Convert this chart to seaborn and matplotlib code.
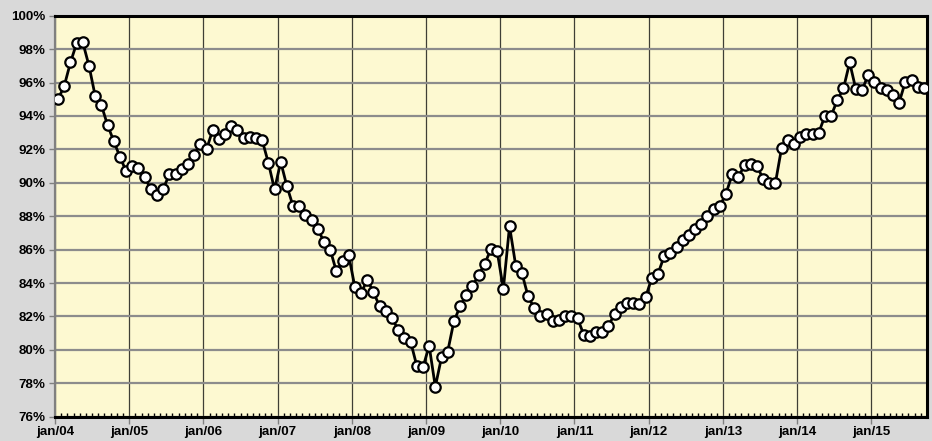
import numpy as np
import pandas as pd
import matplotlib
matplotlib.use("Agg")
import matplotlib.pyplot as plt
import seaborn as sns
from matplotlib.ticker import MultipleLocator, FixedLocator

# monthly values (%), jan/04 .. sep/15
y2004 = [95.0, 95.8, 97.2, 98.35, 98.4, 97.0, 95.2, 94.65, 93.45, 92.5, 91.55, 90.7]
y2005 = [91.0, 90.9, 90.35, 89.6, 89.25, 89.65, 90.5, 90.5, 90.8, 91.1, 91.65, 92.35]
y2006 = [92.0, 93.15, 92.65, 92.9, 93.4, 93.15, 92.7, 92.75, 92.7, 92.55, 91.2, 89.6]
y2007 = [91.25, 89.8, 88.6, 88.6, 88.1, 87.75, 87.25, 86.45, 86.0, 84.7, 85.3, 85.65]
y2008 = [83.75, 83.4, 84.2, 83.45, 82.6, 82.35, 81.9, 81.2, 80.7, 80.5, 79.05, 78.95]
y2009 = [80.25, 77.8, 79.55, 79.9, 81.7, 82.6, 83.3, 83.8, 84.5, 85.15, 86.05, 85.9]
y2010 = [83.65, 87.4, 85.05, 84.6, 83.2, 82.5, 82.0, 82.15, 81.7, 81.8, 82.0, 82.0]
y2011 = [81.9, 80.9, 80.85, 81.05, 81.05, 81.45, 82.15, 82.55, 82.8, 82.8, 82.75, 83.15]
y2012 = [84.3, 84.55, 85.6, 85.8, 86.15, 86.6, 86.85, 87.25, 87.55, 88.0, 88.45, 88.6]
y2013 = [89.35, 90.5, 90.35, 91.05, 91.1, 91.0, 90.25, 90.0, 90.0, 92.1, 92.55, 92.3]
y2014 = [92.75, 92.9, 92.95, 93.0, 94.0, 94.0, 94.95, 95.65, 97.2, 95.6, 95.55, 96.45]
y2015 = [96.05, 95.65, 95.55, 95.25, 94.8, 96.05, 96.15, 95.75, 95.7]

values = y2004 + y2005 + y2006 + y2007 + y2008 + y2009 + y2010 + y2011 + y2012 + y2013 + y2014 + y2015
year_labels = ["jan/04", "jan/05", "jan/06", "jan/07", "jan/08", "jan/09",
               "jan/10", "jan/11", "jan/12", "jan/13", "jan/14", "jan/15"]

n = len(values)
df = pd.DataFrame({"month": np.arange(n) + 0.5, "valor": values})

fig = plt.figure(figsize=(9.32, 4.41), dpi=100, facecolor="#D9D9D9")
ax = fig.add_axes([0.059, 0.055, 0.9356, 0.9094])
ax.set_facecolor("#FDF9D1")

sns.lineplot(data=df, x="month", y="valor", ax=ax, color="black", linewidth=2,
             marker="o", markersize=7.5, markerfacecolor="white",
             markeredgecolor="black", markeredgewidth=1.6, zorder=5)

ax.set_xlim(0, n)
ax.set_ylim(76, 100)

# y axis
ax.set_yticks(np.arange(76, 101, 2))
ax.set_yticklabels([f"{v}%" for v in range(76, 101, 2)])
ax.yaxis.grid(True, color="#8C8C8C", linewidth=1.6)

# x axis: year ticks + monthly minor ticks
ax.xaxis.set_major_locator(FixedLocator(np.arange(0, n, 12)))
ax.set_xticklabels(year_labels)
ax.xaxis.set_minor_locator(MultipleLocator(1))
ax.xaxis.grid(True, which="major", color="#3F3F36", linewidth=0.9)
ax.set_axisbelow(True)

ax.tick_params(axis="x", which="major", direction="out", length=5, color="#808080",
               width=1, pad=1.5)
ax.tick_params(axis="x", which="minor", direction="in", length=3, color="black", width=1)
ax.tick_params(axis="y", direction="out", length=4, color="#808080", width=1, pad=3)

for lab in ax.get_xticklabels() + ax.get_yticklabels():
    lab.set_fontfamily("Liberation Sans")
    lab.set_fontweight("bold")
    lab.set_fontsize(9.6)

ax.set_xlabel("")
ax.set_ylabel("")

for side in ["top", "right", "bottom"]:
    ax.spines[side].set_color("black")
    ax.spines[side].set_linewidth(2.2)
ax.spines["left"].set_color("#808080")
ax.spines["left"].set_linewidth(1.6)

fig.savefig("out.png", dpi=100, facecolor=fig.get_facecolor())
